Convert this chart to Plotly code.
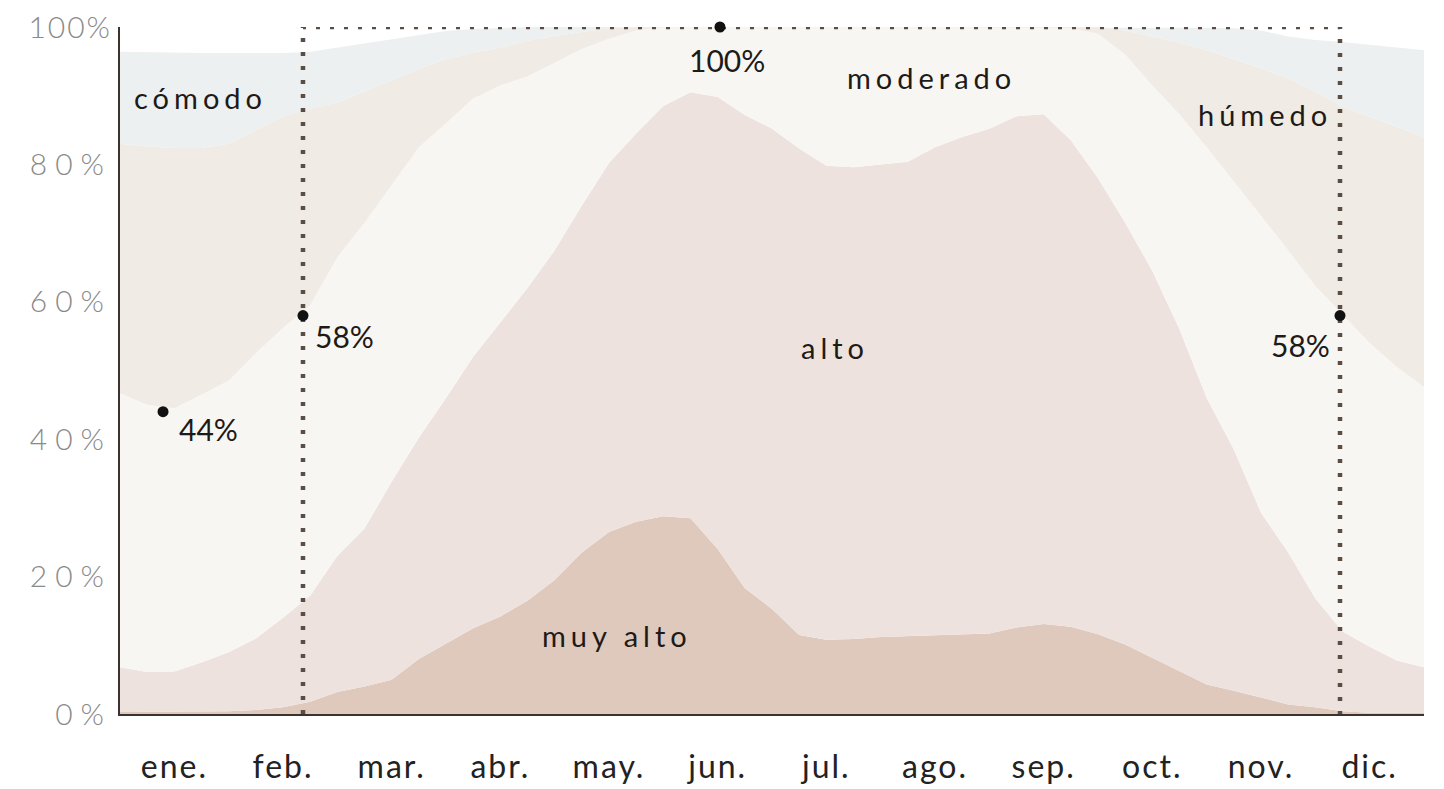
import plotly.graph_objects as go

# x positions in months (0 = start of January, 12 = end of December)
months_x = [i * 0.25 for i in range(49)]

# cumulative tops of each humidity level (% of time)
muy_alto_top = [0.3, 0.3, 0.3, 0.3, 0.4, 0.6, 1.0, 1.8, 3.2, 4.0, 5.0, 8.0, 10.2,
                12.5, 14.2, 16.5, 19.5, 23.5, 26.5, 28.0, 28.8, 28.5, 24.0, 18.3,
                15.3, 11.5, 10.8, 10.9, 11.2, 11.3, 11.4, 11.5, 11.7, 12.6, 13.1,
                12.7, 11.6, 10.1, 8.2, 6.2, 4.3, 3.4, 2.4, 1.4, 1.0, 0.4, 0.2, 0.2, 0.2]
alto_top = [6.8, 6.1, 6.2, 7.5, 9.0, 11.0, 14.0, 17.2, 23.0, 27.0, 33.8, 40.2, 46.0,
            52.0, 57.0, 62.0, 67.5, 74.0, 80.2, 84.5, 88.5, 90.5, 89.8, 87.2,
            85.2, 82.3, 79.8, 79.6, 80.0, 80.4, 82.5, 84.0, 85.2, 87.0, 87.3,
            83.5, 78.0, 71.5, 64.5, 56.0, 46.0, 38.5, 29.3, 23.5, 16.8, 12.0, 9.8, 7.8, 6.8]
moderado_top = [46.7, 45.0, 44.5, 46.5, 48.5, 52.5, 56.2, 59.5, 66.5, 71.5, 77.0, 82.5, 86.0,
                89.6, 91.5, 92.8, 94.8, 96.8, 98.3, 99.5, 100, 100, 100, 100,
                100, 100, 100, 100, 100, 100, 100, 100, 100, 100, 100,
                99.8, 99.0, 96.0, 91.5, 87.3, 82.5, 77.5, 72.5, 67.5, 62.3, 58.2, 54.0, 50.5, 47.6]
humedo_top = [83.0, 82.6, 82.4, 82.4, 83.0, 85.0, 87.0, 88.1, 89.0, 90.6, 92.2, 93.9, 95.3,
              96.3, 97.0, 98.0, 98.7, 99.3, 99.8, 100, 100, 100, 100, 100,
              100, 100, 100, 100, 100, 100, 100, 100, 100, 100, 100,
              100, 100, 99.5, 98.6, 97.7, 96.6, 95.3, 94.0, 92.5, 90.6, 88.4, 86.9, 85.5, 84.0]
comodo_top = [96.4, 96.3, 96.2, 96.2, 96.2, 96.2, 96.2, 96.4, 97.0, 97.7, 98.3, 98.9, 99.4,
              99.7, 99.9, 100, 100, 100, 100, 100, 100, 100, 100, 100,
              100, 100, 100, 100, 100, 100, 100, 100, 100, 100, 100,
              100, 100, 100, 100, 100, 99.9, 99.8, 99.5, 98.6, 98.1, 97.8, 97.4, 97.0, 96.6]

level_names = ["muy alto", "alto", "moderado", "húmedo", "cómodo"]
level_tops = [muy_alto_top, alto_top, moderado_top, humedo_top, comodo_top]
level_colors = ["#dfc9bd", "#ede2dd", "#f8f6f2", "#f0ebe5", "#ecf0f1"]

# highlighted points (month position, value)
point_months = [0.396, 1.684, 5.521, 11.227]
point_values = [44, 58, 100, 58]
point_labels = ["44%", "58%", "100%", "58%"]

month_labels = ["ene.", "feb.", "mar.", "abr.", "may.", "jun.",
                "jul.", "ago.", "sep.", "oct.", "nov.", "dic."]
y_tick_vals = [0, 20, 40, 60, 80, 100]
y_tick_labels = ["0%", "20%", "40%", "60%", "80%", "100%"]

# label positions for each level (month, %)
level_label_pos = {
    "cómodo": (0.74, 89.7),
    "moderado": (7.47, 92.6),
    "húmedo": (10.54, 87.2),
    "alto": (6.58, 53.3),
    "muy alto": (4.57, 11.4),
}


def spaced(text, px):
    return f'<span style="letter-spacing:{px}px">{text}</span>'


fig = go.Figure()
for i, (name, top, col) in enumerate(zip(level_names, level_tops, level_colors)):
    fig.add_trace(go.Scatter(
        x=months_x, y=top, mode="lines", name=name,
        line=dict(width=0, color=col), fillcolor=col,
        fill="tozeroy" if i == 0 else "tonexty", hoverinfo="skip",
        showlegend=False))

# dotted frame between the Feb and Dec highlighted points, up to 100 %
x0, x1 = point_months[1], point_months[3]
fig.add_trace(go.Scatter(
    x=[x0, x0, x1, x1], y=[0, 100, 100, 0], mode="lines",
    line=dict(color="#5a4d44", width=4.5, dash="4px,10px"),
    hoverinfo="skip", showlegend=False, cliponaxis=False))

fig.add_trace(go.Scatter(
    x=point_months, y=point_values, mode="markers",
    marker=dict(color="#111111", size=11), hoverinfo="skip", showlegend=False,
    cliponaxis=False))

level_font = dict(family="Lato", size=29, color="#1e1a18")
for name, (lx, ly) in level_label_pos.items():
    fig.add_annotation(x=lx, y=ly, text=spaced(name, 5), showarrow=False, font=level_font)

pct_font = dict(family="Lato", size=30, color="#1e1a18")
label_offsets = [(45, -17), (42, -20), (7, -33), (-40, -29)]
for mx, my, lab, (dx, dy) in zip(point_months, point_values, point_labels, label_offsets):
    fig.add_annotation(x=mx, y=my, text=lab, showarrow=False, font=pct_font,
                       xshift=dx, yshift=dy)

fig.update_layout(
    width=1444, height=789,
    margin=dict(l=112, r=28, t=19, b=83),
    paper_bgcolor="white", plot_bgcolor="white",
    showlegend=False,
)
fig.update_xaxes(
    range=[0, 12], tickvals=[m + 0.5 for m in range(12)],
    ticktext=[spaced(m, 2) for m in month_labels], automargin=False,
    showgrid=False, zeroline=False, showline=True, linecolor="#3a3330", linewidth=2,
    ticks="outside", ticklen=24, tickcolor="rgba(0,0,0,0)",
    tickfont=dict(family="Lato", size=32, color="#222222"), fixedrange=True)
fig.update_yaxes(
    range=[0, 100], tickvals=y_tick_vals,
    ticktext=[spaced(t, 2 if t == "100%" else 8) for t in y_tick_labels], automargin=False,
    ticklabeloverflow="allow",
    showgrid=False, zeroline=False, showline=True, linecolor="#3a3330", linewidth=2,
    ticks="outside", ticklen=0, tickcolor="rgba(0,0,0,0)",
    tickfont=dict(family="Lato", size=30, color="#8a8a8a", weight=300), fixedrange=True)

fig.write_html("out.html")
